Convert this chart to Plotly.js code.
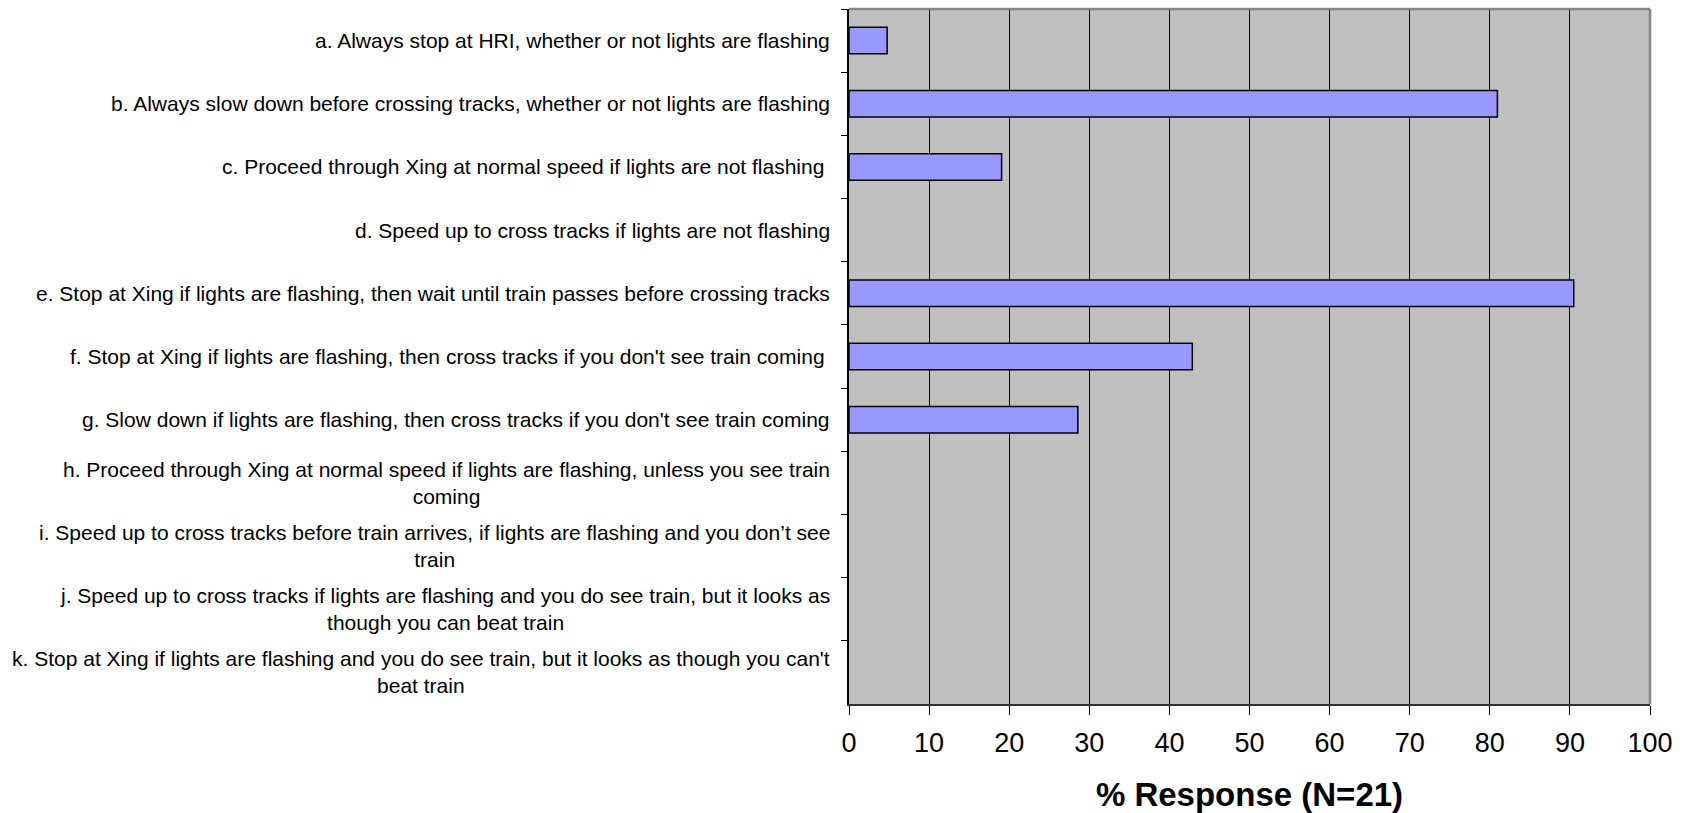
<!DOCTYPE html>
<html>
<head>
<meta charset="utf-8">
<script src="https://cdn.plot.ly/plotly-3.0.1.min.js"></script>
<style>
  html, body { margin: 0; padding: 0; background: #ffffff; }
  #chart { width: 1688px; height: 813px; }
</style>
</head>
<body>
<div id="chart"></div>
<script>
// Categories (top to bottom) and % response values
const categories = [
  "a. Always stop at HRI, whether or not lights are flashing",
  "b. Always slow down before crossing tracks, whether or not lights are flashing",
  "c. Proceed through Xing at normal speed if lights are not flashing ",
  "d. Speed up to cross tracks if lights are not flashing",
  "e. Stop at Xing if lights are flashing, then wait until train passes before crossing tracks",
  "f. Stop at Xing if lights are flashing, then cross tracks if you don't see train coming ",
  "g. Slow down if lights are flashing, then cross tracks if you don't see train coming",
  "h. Proceed through Xing at normal speed if lights are flashing, unless you see train<br>coming",
  "i. Speed up to cross tracks before train arrives, if lights are flashing and you don\u2019t see<br>train",
  "j. Speed up to cross tracks if lights are flashing and you do see train, but it looks as<br>though you can beat train",
  "k. Stop at Xing if lights are flashing and you do see train, but it looks as though you can't<br>beat train"
];
const percentResponse = [4.76, 80.95, 19.05, 0, 90.48, 42.86, 28.57, 0, 0, 0, 0];
const xTickValues = [0, 10, 20, 30, 40, 50, 60, 70, 80, 90, 100];
const xAxisTitle = "% Response (N=21)";

const FONT = "Arial, 'Liberation Sans', Helvetica, sans-serif";

const trace = {
  type: "bar",
  orientation: "h",
  y: categories,
  x: percentResponse,
  marker: {
    color: "#9999ff",
    line: { color: "#000000", width: percentResponse.map(v => (v > 0 ? 1.5 : 0)) }
  },
  hoverinfo: "x+y"
};

const labelAnnotations = categories.map(c => ({
  xref: "paper", yref: "y",
  x: 0, y: c,
  xanchor: "right", yanchor: "middle",
  xshift: -17,
  align: "center",
  text: c,
  showarrow: false,
  font: { family: FONT, size: 21, color: "#000000" }
}));

const layout = {
  width: 1688, height: 813,
  margin: { l: 849, r: 38, t: 9, b: 109, pad: 0 },
  paper_bgcolor: "#ffffff",
  plot_bgcolor: "#c0c0c0",
  showlegend: false,
  bargap: 0.58,
  font: { family: FONT, color: "#000000" },
  xaxis: {
    range: [0, 100],
    tickvals: xTickValues,
    ticktext: xTickValues.map(String),
    showgrid: true, gridcolor: "#000000", gridwidth: 1,
    zeroline: false,
    showline: true, linecolor: "#303030", linewidth: 2,
    ticks: "outside", ticklen: 9, tickwidth: 1, tickcolor: "#000000",
    ticklabelstandoff: 5,
    tickfont: { family: FONT, size: 27, color: "#000000" },
    title: { text: "<b>" + xAxisTitle + "</b>", font: { family: FONT, size: 33, color: "#000000" }, standoff: 26 },
    automargin: false,
    fixedrange: true
  },
  yaxis: {
    type: "category",
    categoryorder: "array",
    categoryarray: categories,
    range: [categories.length - 0.5, -0.5],
    showticklabels: false,
    tickson: "boundaries",
    ticks: "outside", ticklen: 6, tickwidth: 1, tickcolor: "#000000",
    showgrid: false, zeroline: false,
    showline: true, linecolor: "#000000", linewidth: 2,
    automargin: false,
    fixedrange: true
  },
  shapes: [
    { type: "line", xref: "paper", yref: "paper", x0: 0, x1: 1, y0: 1, y1: 1, line: { color: "#868686", width: 2.5 }, layer: "above" },
    { type: "line", xref: "paper", yref: "paper", x0: 1, x1: 1, y0: 0, y1: 1, line: { color: "#868686", width: 2.5 }, layer: "above" }
  ],
  annotations: labelAnnotations
};

Plotly.newPlot("chart", [trace], layout, { displayModeBar: false, staticPlot: true });
</script>
</body>
</html>
